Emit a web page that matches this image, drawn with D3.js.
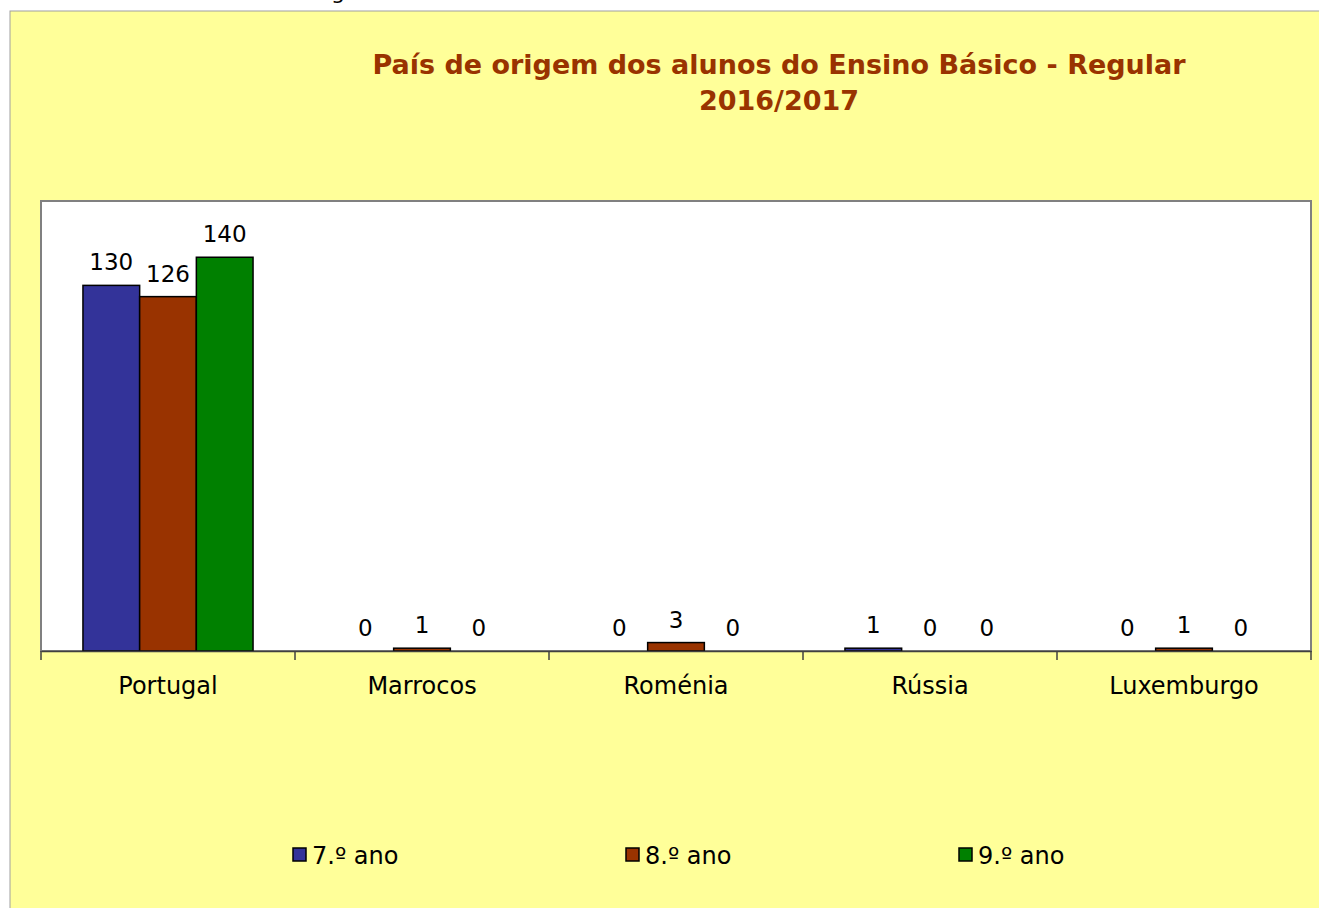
<!DOCTYPE html>
<html><head><meta charset="utf-8">
<title>País de origem dos alunos</title>
<style>
  body, html { margin: 0; padding: 0; background: #fff; }
  svg text { font-family: 'DejaVu Sans', sans-serif; }
</style>
<script src="https://d3js.org/d3.v7.min.js"></script>
</head>
<body>
<div id="chart"></div>
<script>
const countries = ["Portugal", "Marrocos", "Roménia", "Rússia", "Luxemburgo"];
const seriesNames = ["7.º ano", "8.º ano", "9.º ano"];
const ano7 = [130, 0, 0, 1, 0];
const ano8 = [126, 1, 3, 0, 1];
const ano9 = [140, 0, 0, 0, 0];
const colors = ["#333399", "#993300", "#008000"];
const titleLines = ["País de origem dos alunos do Ensino Básico - Regular", "2016/2017"];

const series = [ano7, ano8, ano9];
const width = 1319, height = 908;
const plot = { left: 41, top: 201, right: 1311, bottom: 651 };

const svg = d3.select("#chart").append("svg")
  .attr("width", width)
  .attr("height", height);

// outer chart area
svg.append("rect").attr("x", 10).attr("y", 11).attr("width", width).attr("height", height)
  .attr("fill", "#ffff99").attr("stroke", "#a0a0a0").attr("stroke-width", 1);

// bit of text cut off above the chart
svg.append("text").attr("x", 331).attr("y", -1).attr("font-size", 22).text("g");

// title
svg.append("text")
  .attr("x", 779).attr("y", 74)
  .attr("text-anchor", "middle")
  .attr("font-size", 27).attr("font-weight", "bold").attr("fill", "#993300")
  .selectAll("tspan").data(titleLines).enter().append("tspan")
  .attr("x", 779).attr("dy", (d, i) => i ? 36 : 0)
  .text(d => d);

const x0 = d3.scaleBand().domain(countries).range([plot.left, plot.right]).paddingInner(0).paddingOuter(0);
const x1 = d3.scaleBand().domain(seriesNames).range([0, x0.bandwidth()]).paddingInner(0).paddingOuter(0.74);
const y = d3.scaleLinear().domain([0, 160]).range([plot.bottom, plot.top]);

svg.append("rect")
  .attr("x", plot.left).attr("y", plot.top)
  .attr("width", plot.right - plot.left).attr("height", plot.bottom - plot.top)
  .attr("fill", "#fff").attr("stroke", "#808080").attr("stroke-width", 2);

const groups = svg.selectAll("g.grp").data(countries).enter().append("g")
  .attr("class", "grp")
  .attr("transform", d => `translate(${x0(d)},0)`);

groups.selectAll("rect").data((d, i) => series.map((s, j) => ({ k: seriesNames[j], v: s[i], c: colors[j] })))
  .enter().append("rect")
  .attr("x", d => x1(d.k)).attr("width", x1.bandwidth())
  .attr("y", d => y(d.v)).attr("height", d => plot.bottom - y(d.v))
  .attr("fill", d => d.c).attr("stroke", "#000").attr("stroke-width", 1.5)
  .attr("display", d => d.v > 0 ? null : "none");

groups.selectAll("text").data((d, i) => series.map((s, j) => ({ k: seriesNames[j], v: s[i] })))
  .enter().append("text")
  .attr("x", d => x1(d.k) + x1.bandwidth() / 2)
  .attr("y", d => y(d.v) - 15)
  .attr("text-anchor", "middle").attr("font-size", 23).attr("fill", "#000")
  .text(d => d.v);

// category axis
const axis = svg.append("g")
  .attr("transform", `translate(0,${plot.bottom})`)
  .call(d3.axisBottom(x0).tickSize(0).tickPadding(26));
axis.select(".domain").attr("stroke", "#404040").attr("stroke-width", 1.5);
axis.selectAll("text").attr("font-size", 24).attr("fill", "#000")
  .attr("font-family", "'DejaVu Sans', sans-serif");
const tickPos = countries.map(c => x0(c)).concat([plot.right]);
axis.selectAll("line.sep").data(tickPos).enter().append("line")
  .attr("class", "sep")
  .attr("x1", d => d).attr("x2", d => d).attr("y1", 0).attr("y2", 9)
  .attr("stroke", "#404040").attr("stroke-width", 1.5);

// legend
const legendX = [293, 626, 959];
const legend = svg.selectAll("g.leg").data(seriesNames).enter().append("g")
  .attr("class", "leg")
  .attr("transform", (d, i) => `translate(${legendX[i]},848)`);
legend.append("rect").attr("width", 13).attr("height", 13)
  .attr("fill", (d, i) => colors[i]).attr("stroke", "#000").attr("stroke-width", 1.5);
legend.append("text").attr("x", 19).attr("y", 16).attr("font-size", 24).attr("fill", "#000")
  .text(d => d);
</script>
</body></html>
